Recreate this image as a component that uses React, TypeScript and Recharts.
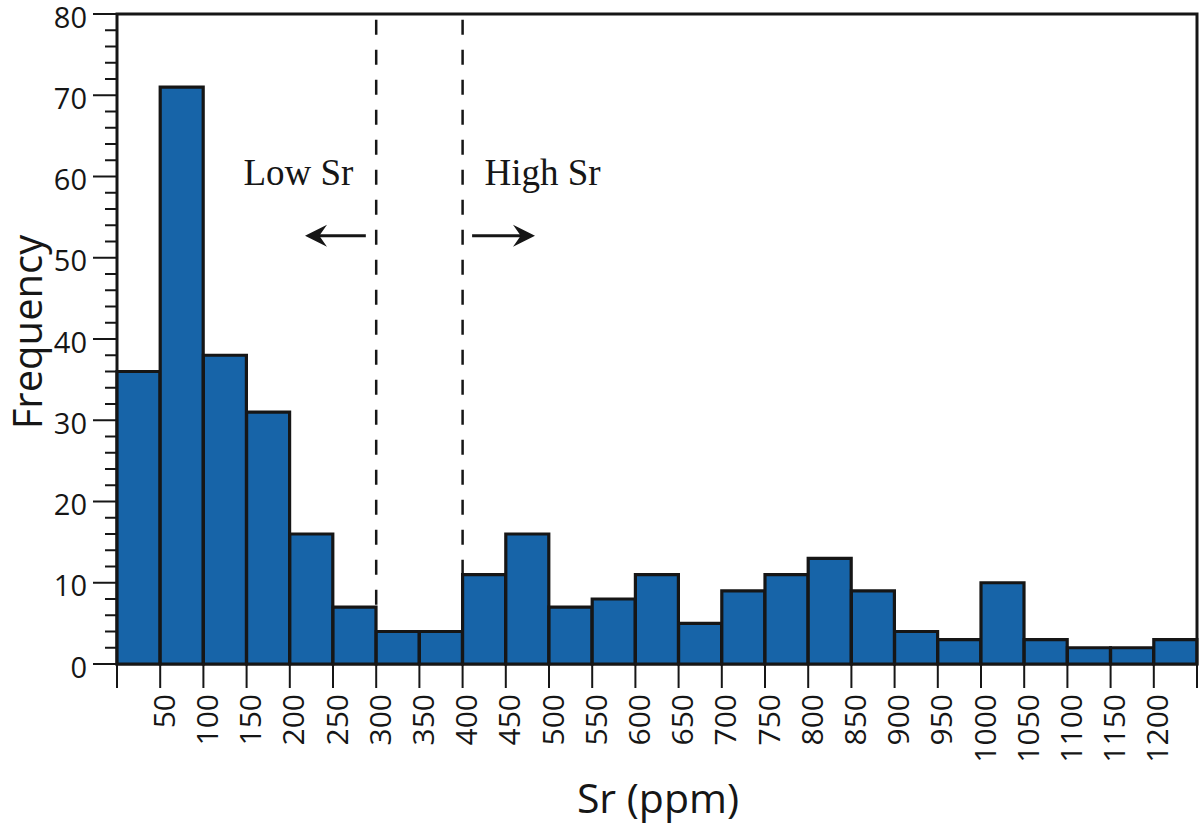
import { BarChart, Bar, XAxis, YAxis, ReferenceLine, ReferenceArea, ReferenceDot } from 'recharts';

// histogram bins of Sr (ppm), 50 ppm wide
const binStarts = [0, 50, 100, 150, 200, 250, 300, 350, 400, 450, 500, 550, 600, 650, 700, 750, 800, 850, 900, 950, 1000, 1050, 1100, 1150, 1200];
const counts = [36, 71, 38, 31, 16, 7, 4, 4, 11, 16, 7, 8, 11, 5, 9, 11, 13, 9, 4, 3, 10, 3, 2, 2, 3];
const binWidth = 50;

const xTicks = [0, 50, 100, 150, 200, 250, 300, 350, 400, 450, 500, 550, 600, 650, 700, 750, 800, 850, 900, 950, 1000, 1050, 1100, 1150, 1200, 1250];
const xLabelled = [50, 100, 150, 200, 250, 300, 350, 400, 450, 500, 550, 600, 650, 700, 750, 800, 850, 900, 950, 1000, 1050, 1100, 1150, 1200];
const yTicks = [0, 2, 4, 6, 8, 10, 12, 14, 16, 18, 20, 22, 24, 26, 28, 30, 32, 34, 36, 38, 40, 42, 44, 46, 48, 50, 52, 54, 56, 58, 60, 62, 64, 66, 68, 70, 72, 74, 76, 78, 80];

// split between low and high Sr groups
const splits = [300, 400];

const INK = '#161616';
const SANS = '"Open Sans", "DejaVu Sans", sans-serif';
const SERIF = '"Liberation Serif", "DejaVu Serif", serif';

const data = binStarts.map((s, i) => ({ bin: `${s}-${s + binWidth}`, mid: s + binWidth / 2, count: counts[i] }));

function splitTop(x: number) {
  const i = binStarts.indexOf(x);
  return Math.max(counts[i - 1] ?? 0, counts[i] ?? 0);
}

const YTick = (props: any) => {
  const { x, y, payload } = props;
  const major = payload.value % 10 === 0;
  return (
    <g>
      <line x1={x + (major ? 6 : 18)} x2={x + 30} y1={y} y2={y} stroke={INK} strokeWidth={2} />
      {major && (
        <text x={x} y={y + 2} textAnchor="end" dominantBaseline="central" fontSize={29} fontFamily={SANS} fill={INK}>
          {payload.value}
        </text>
      )}
    </g>
  );
};

const XTick = (props: any) => {
  const { x, y, payload } = props;
  const lx = x + 3;
  return (
    <g>
      <line x1={x} x2={x} y1={y - 30} y2={y - 6} stroke={INK} strokeWidth={2} />
      {xLabelled.includes(payload.value) && (
        <text
          x={lx}
          y={y}
          transform={`rotate(-90 ${lx} ${y})`}
          textAnchor="end"
          dominantBaseline="central"
          fontSize={30}
          fontFamily={SANS}
          fill={INK}
        >
          {payload.value}
        </text>
      )}
    </g>
  );
};

const Arrow = (props: any) => {
  const { x1, y1, x2, y2 } = props;
  const dir = x2 > x1 ? 1 : -1;
  const head = 22;
  return (
    <g>
      <line x1={x1} y1={y1} x2={x2 - dir * head * 0.6} y2={y2} stroke={INK} strokeWidth={3} />
      <path
        d={`M${x2},${y2} L${x2 - dir * head},${y2 - 11} L${x2 - dir * head * 0.65},${y2} L${x2 - dir * head},${y2 + 11} Z`}
        fill={INK}
      />
    </g>
  );
};

const annoText = (text: string) => (props: any) => (
  <text x={props.cx} y={props.cy} textAnchor="middle" fontSize={37} fontFamily={SERIF} fill={INK}>
    {text}
  </text>
);

export default function App() {
  return (
    <div style={{ position: 'absolute', left: 0, top: 0, width: 1200, height: 824, background: '#fff' }}>
      <BarChart
        width={1200}
        height={824}
        data={data}
        margin={{ top: 14, right: 3, bottom: 0, left: 0 }}
        barCategoryGap={0}
        barGap={0}
      >
        <XAxis xAxisId="bins" dataKey="bin" hide height={0} />
        <XAxis
          xAxisId="sr"
          dataKey="mid"
          type="number"
          domain={[0, 1250]}
          ticks={xTicks}
          interval={0}
          allowDataOverflow
          height={160}
          tickSize={24}
          tickMargin={6}
          tickLine={false}
          axisLine={false}
          tick={<XTick />}
          label={{
            content: () => (
              <text x={658} y={813} textAnchor="middle" fontSize={41} fontFamily={SANS} fill={INK}>
                Sr (ppm)
              </text>
            ),
          }}
        />
        <YAxis
          domain={[0, 80]}
          ticks={yTicks}
          interval={0}
          width={117}
          tickSize={24}
          tickMargin={6}
          tickLine={false}
          axisLine={false}
          tick={<YTick />}
          label={{
            content: () => (
              <text x={42} y={332} transform="rotate(-90 42 332)" textAnchor="middle" fontSize={40} fontFamily={SANS} fill={INK}>
                Frequency
              </text>
            ),
          }}
        />
        {splits.map((s) => (
          <ReferenceLine
            key={s}
            xAxisId="sr"
            segment={[{ x: s, y: 79.3 }, { x: s, y: splitTop(s) }]}
            stroke={INK}
            strokeWidth={2.5}
            strokeDasharray="15 15"
          />
        ))}
        <Bar xAxisId="bins" dataKey="count" fill="#1764a8" stroke={INK} strokeWidth={3.2} isAnimationActive={false} />
        <ReferenceArea xAxisId="sr" x1={0} x2={1250} y1={0} y2={80} fill="none" fillOpacity={0} stroke={INK} strokeWidth={3} />
        <ReferenceLine xAxisId="sr" segment={[{ x: 288, y: 52.7 }, { x: 217.6, y: 52.7 }]} shape={<Arrow />} />
        <ReferenceLine xAxisId="sr" segment={[{ x: 411, y: 52.7 }, { x: 483.8, y: 52.7 }]} shape={<Arrow />} />
        <ReferenceDot xAxisId="sr" x={210} y={59} r={0} shape={annoText('Low Sr')} />
        <ReferenceDot xAxisId="sr" x={492.5} y={59} r={0} shape={annoText('High Sr')} />
      </BarChart>
    </div>
  );
}
